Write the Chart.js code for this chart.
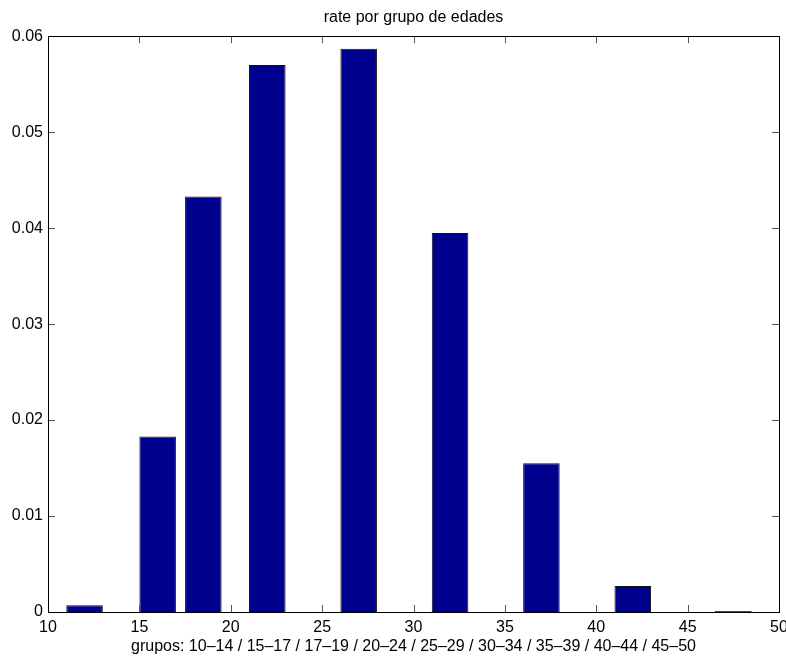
<!DOCTYPE html>
<html>
<head>
<meta charset="utf-8">
<title>rate por grupo de edades</title>
<script src="https://cdn.jsdelivr.net/npm/chart.js@4.4.1/dist/chart.umd.min.js"></script>
<style>
    html, body { margin: 0; padding: 0; background: #fff; }
    canvas { display: block; }
</style>
</head>
<body>
<canvas id="chart" width="786" height="656"></canvas>
<script>
// centre of each age group on the x axis and its rate
const groupCenters = [12, 16, 18.5, 22, 27, 32, 37, 42, 47.5];
const rates = [0.0007, 0.0183, 0.0433, 0.0570, 0.0587, 0.0395, 0.0155, 0.0027, 0.0001];
const xTicks = [10, 15, 20, 25, 30, 35, 40, 45, 50];
const yTicks = [0, 0.01, 0.02, 0.03, 0.04, 0.05, 0.06];

const FONT = '"Liberation Sans", Arial, Helvetica, sans-serif';

// box around the plot with the ticks pointing inwards on all four sides
const frameTicks = {
    id: 'frameTicks',
    afterDatasetsDraw(chart) {
        const ctx = chart.ctx;
        const a = chart.chartArea;
        const xs = chart.scales.x;
        const ys = chart.scales.y;
        const len = 7;
        ctx.save();
        ctx.lineWidth = 1;
        ctx.strokeStyle = '#555';
        ctx.beginPath();
        xTicks.forEach(function(v) {
            const px = Math.round(xs.getPixelForValue(v)) + 0.5;
            ctx.moveTo(px, a.bottom);
            ctx.lineTo(px, a.bottom - len);
            ctx.moveTo(px, a.top);
            ctx.lineTo(px, a.top + len);
        });
        yTicks.forEach(function(v) {
            const py = Math.round(ys.getPixelForValue(v)) + 0.5;
            ctx.moveTo(a.left, py);
            ctx.lineTo(a.left + len, py);
            ctx.moveTo(a.right, py);
            ctx.lineTo(a.right - len, py);
        });
        ctx.stroke();
        ctx.strokeStyle = '#000';
        ctx.strokeRect(Math.round(a.left) + 0.5, Math.round(a.top) + 0.5,
            Math.round(a.right - a.left), Math.round(a.bottom - a.top));
        ctx.restore();
    }
};

const points = groupCenters.map(function(c, i) {
    return { x: c, y: rates[i] };
});

new Chart(document.getElementById('chart'), {
    type: 'bar',
    data: {
        datasets: [{
            data: points,
            backgroundColor: '#00008f',
            borderColor: '#111',
            borderWidth: 1,
            categoryPercentage: 1,
            barPercentage: 0.8
        }]
    },
    options: {
        responsive: false,
        animation: false,
        layout: { padding: { top: 0, right: 7, left: 0, bottom: 0 } },
        plugins: {
            legend: { display: false },
            tooltip: { enabled: false },
            title: {
                display: true,
                fullSize: false,
                text: 'rate por grupo de edades',
                color: '#000',
                font: { family: FONT, size: 16, weight: 'normal' },
                padding: { top: 8, bottom: 9 }
            }
        },
        scales: {
            x: {
                type: 'linear',
                offset: false,
                min: 10,
                max: 50,
                afterBuildTicks(scale) {
                    scale.ticks = xTicks.map(function(v) { return { value: v }; });
                },
                grid: { display: false, drawTicks: false },
                border: { display: false },
                ticks: {
                    color: '#000',
                    padding: 6,
                    maxRotation: 0,
                    font: { family: FONT, size: 16 }
                },
                title: {
                    display: true,
                    text: 'grupos: 10\u201314 / 15\u201317 / 17\u201319 / 20\u201324 / 25\u201329 / 30\u201334 / 35\u201339 / 40\u201344 / 45\u201350',
                    color: '#000',
                    font: { family: FONT, size: 16 },
                    padding: { top: 0, bottom: 0 }
                },
                afterFit(scale) {
                    scale.height = 44;
                    scale.paddingLeft = 0;
                    scale.paddingRight = 0;
                }
            },
            y: {
                min: 0,
                max: 0.06,
                afterBuildTicks(scale) {
                    scale.ticks = yTicks.map(function(v) { return { value: v }; });
                },
                grid: { display: false, drawTicks: false },
                border: { display: false },
                ticks: {
                    color: '#000',
                    padding: 5,
                    font: { family: FONT, size: 16 },
                    callback: function(v) { return v === 0 ? '0' : v.toFixed(2); }
                },
                afterFit(scale) {
                    scale.width = 48;
                    scale.paddingTop = 0;
                    scale.paddingBottom = 0;
                }
            }
        }
    },
    plugins: [frameTicks]
});
</script>
</body>
</html>
